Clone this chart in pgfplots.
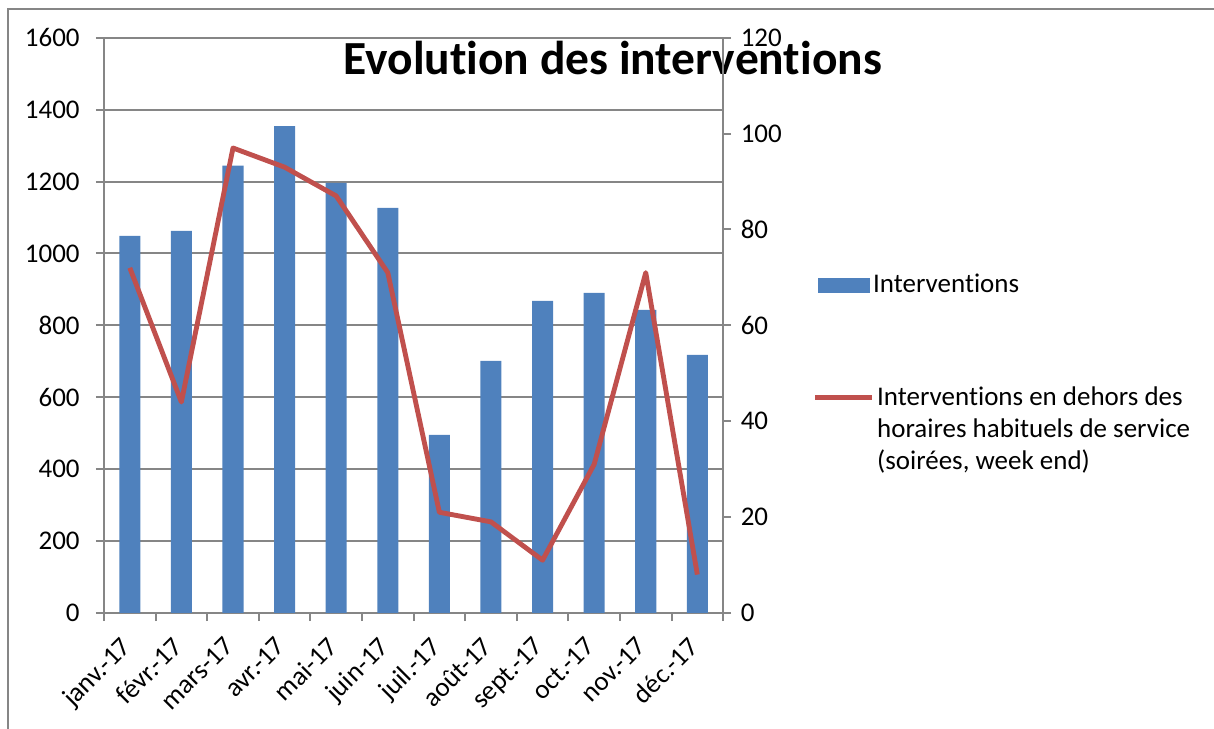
\documentclass[border=0pt]{standalone}
\usepackage{pgfplots}
\pgfplotsset{compat=1.18}
\usepackage{pgfplotstable}
\usepackage{fontspec}
\setmainfont{Carlito}[Ligatures=NoCommon]
\definecolor{barblue}{HTML}{4F81BD}
\definecolor{linered}{HTML}{C0504D}
\definecolor{axgray}{HTML}{868686}

% x: month index, inter: interventions (left axis), hors: outside usual hours (right axis)
\pgfplotstableread{
x inter hors
0 1049 72
1 1063 44
2 1244 97
3 1354 93
4 1196 87
5 1127 71
6 495 21
7 701 19
8 868 11
9 890 31
10 843 71
11 718 8
}\data

\begin{document}
\begin{tikzpicture}[x=1pt,y=1pt]
\useasboundingbox (0,0) rectangle (450,270.2);
\draw[axgray, line width=0.75pt] (3.08,0) -- (3.08,266.9) -- (450,266.9);
\node[anchor=base, font=\bfseries\fontsize{17.6}{20}\selectfont] at (227.1,242.4) {Evolution des interventions};

\pgfplotsset{
  every axis/.append style={
    scale only axis, width=229.5pt, height=213.2pt,
    at={(38.55pt,43.0pt)}, anchor=south west,
    xmin=-0.5, xmax=11.5,
    font=\fontsize{10}{12}\selectfont,
    /pgf/number format/assume math mode=true,
    /pgf/number format/1000 sep={},
    tick align=outside,
    major tick length=3pt, minor tick length=3pt,
    axis line style={-, axgray, line width=0.75pt},
    every tick/.style={axgray, line width=0.75pt},
    legend style={draw=none, fill=none, inner sep=0pt, column sep=0pt,
      nodes={inner xsep=1pt}, cells={anchor=base west}},
  }
}

\begin{axis}[
  ymin=0, ymax=1600, ytick={0,200,...,1600},
  ymajorgrids, grid style={axgray, line width=0.75pt},
  axis y line*=left, axis x line*=bottom,
  xtick={0,...,11},
  xticklabels={janv.-17,févr.-17,mars-17,avr.-17,mai-17,juin-17,juil.-17,août-17,sept.-17,oct.-17,nov.-17,déc.-17},
  major x tick style={draw=none},
  minor xtick={-0.5,0.5,...,11.5},
  x tick label style={rotate=45, anchor=north east, yshift=2.5pt, xshift=-3pt},
  y tick label style={xshift=-2.5pt},
  legend style={at={(1.153,0.599)}, anchor=north west},
  legend image code/.code={\fill[#1] (0pt,0pt) rectangle (19.3pt,5.5pt);},
]
\addplot[ybar, bar width=7.8pt, bar shift=0pt, fill=barblue, draw=none] table[x=x, y=inter] {\data};
\addlegendentry{Interventions}
\end{axis}

\begin{axis}[
  ymin=0, ymax=120, ytick={0,20,...,120},
  axis y line*=right, axis x line=none,
  legend style={at={(1.1438,0.411)}, anchor=north west},
  legend image code/.code={\draw[#1] (0pt,2.9pt) -- (21.1pt,2.9pt);},
]
\addplot[linered, line width=1.8pt, line join=round, sharp plot] table[x=x, y=hors] {\data};
\addlegendentry{\begin{tabular}[t]{@{}l@{}}\fontsize{10}{12.2}\selectfont Interventions en dehors des\\horaires habituels de service\\(soirées, week end)\end{tabular}}
\end{axis}
\end{tikzpicture}
\end{document}
